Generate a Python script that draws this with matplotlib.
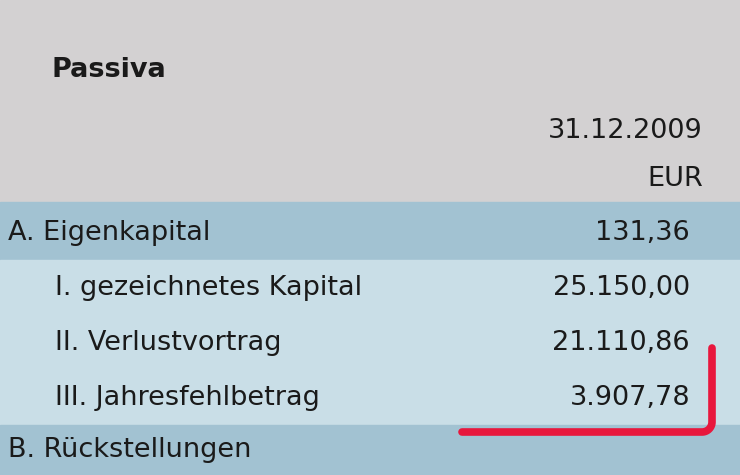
import matplotlib
matplotlib.use("Agg")
import matplotlib.pyplot as plt
from matplotlib.patches import Rectangle
import numpy as np

title = "Passiva"
date_label = "31.12.2009"
currency = "EUR"
main_rows = ["A. Eigenkapital", "B. Rückstellungen"]
main_values = ["131,36", ""]
sub_rows = ["I. gezeichnetes Kapital", "II. Verlustvortrag", "III. Jahresfehlbetrag"]
sub_values = ["25.150,00", "21.110,86", "3.907,78"]

W, H = 740, 475
fig = plt.figure(figsize=(7.4, 4.75), dpi=100)
ax = fig.add_axes([0, 0, 1, 1])
ax.set_xlim(0, W); ax.set_ylim(H, 0); ax.axis("off")

gray, dark, light = "#d3d1d2", "#a2c2d2", "#c9dee7"
ax.add_patch(Rectangle((0, 0), W, 202, color=gray))
ax.add_patch(Rectangle((0, 202), W, 58, color=dark))
ax.add_patch(Rectangle((0, 260), W, 165, color=light))
ax.add_patch(Rectangle((0, 425), W, 50, color=dark))

fs = 19.5
tc = "#1a1a1a"
ax.text(52, 70, title, fontsize=fs, fontweight="bold", va="center", color=tc)
ax.text(703, 131, date_label, fontsize=fs, ha="right", va="center", color=tc)
ax.text(703, 179, currency, fontsize=fs, ha="right", va="center", color=tc)
ax.text(8, 233, main_rows[0], fontsize=fs, va="center", color=tc)
ax.text(690, 233, main_values[0], fontsize=fs, ha="right", va="center", color=tc)
for i, (r, v) in enumerate(zip(sub_rows, sub_values)):
    y = 288 + i * 55
    ax.text(55, y, r, fontsize=fs, va="center", color=tc)
    ax.text(690, y, v, fontsize=fs, ha="right", va="center", color=tc)
ax.text(8, 450, main_rows[1], fontsize=fs, va="center", color=tc)

t = np.linspace(0, np.pi / 2, 20)
r = 10
cx, cy = 702, 422
xs = [712] + list(cx + r * np.cos(t)) + [462]
ys = [348] + list(cy + r * np.sin(t)) + [432]
ax.plot(xs, ys, color="#e8173d", lw=5.5, solid_capstyle="round", solid_joinstyle="round")

fig.savefig("out.png", dpi=100)
